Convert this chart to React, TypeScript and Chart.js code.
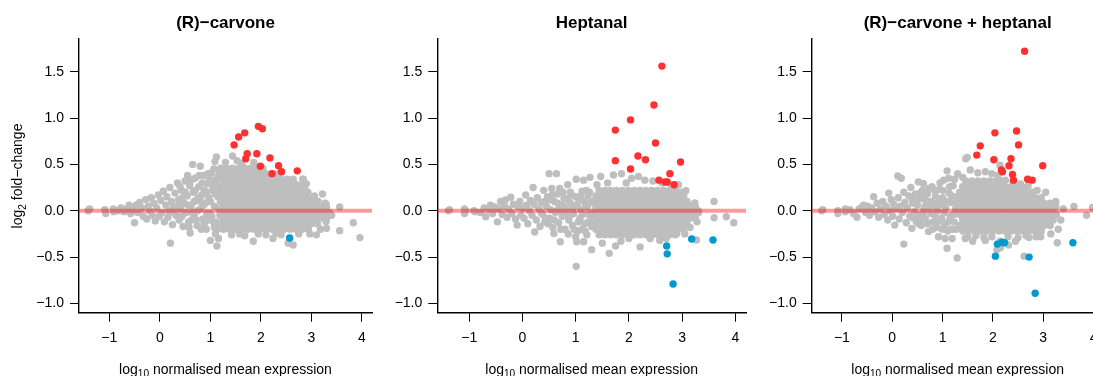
import React, { useEffect, useRef } from "react";
import { Chart, registerables } from "chart.js";
Chart.register(...registerables);

type Pt = [number, number];
type Row = [number, number[]]; // [log2 fold-change, list of log10 mean expression values]

// ---------- axes ----------
const xTickValues = [-1, 0, 1, 2, 3, 4];
const yTickValues = [-1, -0.5, 0, 0.5, 1, 1.5];
const xLimits = [-1.6, 4.2];
const yLimits = [-1.1, 1.86];
const panelTitles = ["(R)\u2212carvone", "Heptanal", "(R)\u2212carvone + heptanal"];

// ---------- panel 1: (R)-carvone ----------
const carvoneUp: Pt[] = [
  [1.95, 0.91], [2.03, 0.885], [1.68, 0.84], [1.56, 0.795], [1.47, 0.71], [1.73, 0.615],
  [1.92, 0.615], [1.70, 0.56], [2.18, 0.57], [1.99, 0.48], [2.35, 0.485], [2.41, 0.42],
  [2.22, 0.40], [2.72, 0.43],
];
const carvoneDown: Pt[] = [[2.57, -0.295]];
const carvoneSparse: Pt[] = [
  [-1.42, 0.0], [-1.39, 0.02], [-1.09, 0.01], [-1.07, -0.03], [-0.92, 0.02], [-0.91, -0.01], [-0.83, 0.0],
  [-0.77, 0.03], [-0.71, -0.01], [-0.67, 0.02], [-0.61, 0.06], [-0.58, -0.03], [-0.54, 0.03], [-0.5, -0.13],
  [-0.47, 0.06], [-0.44, -0.02], [-0.4, 0.09], [-0.36, 0.03], [-0.33, -0.06], [-0.28, 0.12], [-0.26, -0.09],
  [-0.23, 0.05], [-0.2, 0.0], [-0.17, 0.14], [-0.15, -0.05], [-0.12, 0.08], [-0.09, -0.11], [-0.06, 0.03],
  [-0.03, 0.17], [-0.01, -0.06],
  [0.02, 0.11], [0.04, -0.02], [0.07, 0.21], [0.09, -0.12], [0.12, 0.06], [0.14, 0.15], [0.16, -0.07],
  [0.18, 0.0], [0.2, 0.25], [0.21, -0.35], [0.23, 0.1], [0.25, -0.15], [0.27, 0.04], [0.3, 0.19],
  [0.32, -0.05], [0.35, 0.3], [0.37, 0.12], [0.38, -0.1], [0.41, 0.02], [0.43, 0.22], [0.46, -0.17],
  [0.48, 0.08], [0.5, 0.32], [0.52, -0.02], [0.54, 0.16], [0.57, -0.12], [0.59, 0.27], [0.6, -0.24],
  [0.62, 0.05], [0.65, 0.5], [0.66, 0.2], [0.68, -0.06], [0.7, 0.35], [0.72, 0.11], [0.74, -0.16],
  [0.77, 0.26], [0.8, 0.48], [0.8, 0.02], [0.83, 0.17], [0.85, -0.09], [0.87, 0.38], [0.9, 0.08],
  [0.92, -0.2], [0.94, 0.29], [0.97, 0.14], [0.99, -0.03], [1.0, -0.32], [1.02, 0.41], [1.04, 0.22],
  [1.06, -0.12], [1.08, 0.05], [1.09, 0.53], [1.11, 0.31], [1.13, -0.38], [1.14, -0.2], [1.15, 0.15],
  [1.17, 0.44], [1.19, -0.05], [0.45, 0.14], [0.55, 0.38], [0.63, -0.1], [0.75, 0.0], [0.82, -0.2],
  [0.88, 0.22], [0.95, 0.4], [1.05, 0.33], [1.1, -0.25], [0.35, 0.05], [0.28, -0.02], [0.68, 0.1],
  [0.4, 0.26], [0.44, -0.06], [0.5, 0.2], [0.56, 0.06], [0.58, -0.18], [0.62, 0.33], [0.64, -0.02],
  [0.7, 0.22], [0.72, -0.1], [0.76, 0.14], [0.78, 0.38], [0.84, 0.3], [0.86, 0.06], [0.88, -0.14],
  [0.92, 0.2], [0.96, -0.1], [0.98, 0.34], [1.0, 0.1], [1.03, -0.06], [1.05, 0.26], [1.07, 0.45],
  [1.1, 0.18], [1.12, -0.12], [1.15, 0.37], [1.17, 0.02], [1.18, 0.25], [1.16, -0.3], [1.08, -0.18],
  [0.93, -0.03], [0.81, 0.1],
  [1.12, 0.58], [1.44, 0.59], [1.3, 0.52], [1.53, 0.54], [1.62, 0.51], [1.86, 0.52],
  [2.84, 0.34], [2.9, 0.29], [2.93, 0.2],
  [1.42, -0.26], [1.58, -0.25], [1.68, -0.27], [1.85, -0.33], [1.95, -0.25], [2.1, -0.26], [2.24, -0.3],
  [2.4, -0.26], [2.54, -0.35], [2.64, -0.37], [2.75, -0.25], [2.97, -0.25], [3.1, -0.26], [2.3, -0.24], [1.32, -0.19],
  [3.13, 0.1], [3.29, 0.07], [3.22, 0.18], [2.92, 0.2], [2.89, 0.29], [2.83, 0.34], [3.56, 0.04], [3.83, -0.13],
  [3.96, -0.29], [3.56, -0.215], [3.3, -0.19], [3.29, -0.12], [3.4, -0.05], [3.18, -0.2], [3.27, 0.08],
];
const carvoneCore: Row[] = [
  [0.46, [1.2, 1.32, 1.44, 1.56, 1.68, 1.8, 1.92, 2.04]],
  [0.4, [1.26, 1.38, 1.5, 1.62, 1.74, 1.86, 1.98, 2.1, 2.22, 2.34]],
  [0.34, [1.2, 1.32, 1.44, 1.56, 1.68, 1.8, 1.92, 2.04, 2.16, 2.28, 2.4, 2.52, 2.64]],
  [0.28, [1.26, 1.38, 1.5, 1.62, 1.74, 1.86, 1.98, 2.1, 2.22, 2.34, 2.46, 2.58, 2.7, 2.82]],
  [0.22, [1.2, 1.32, 1.44, 1.56, 1.68, 1.8, 1.92, 2.04, 2.16, 2.28, 2.4, 2.52, 2.64, 2.76, 2.88]],
  [0.16, [1.26, 1.38, 1.5, 1.62, 1.74, 1.86, 1.98, 2.1, 2.22, 2.34, 2.46, 2.58, 2.7, 2.82, 2.94, 3.06]],
  [0.1, [1.2, 1.32, 1.44, 1.56, 1.68, 1.8, 1.92, 2.04, 2.16, 2.28, 2.4, 2.52, 2.64, 2.76, 2.88, 3.0, 3.12]],
  [0.04, [1.26, 1.38, 1.5, 1.62, 1.74, 1.86, 1.98, 2.1, 2.22, 2.34, 2.46, 2.58, 2.7, 2.82, 2.94, 3.06, 3.18, 3.3]],
  [-0.02, [1.2, 1.32, 1.44, 1.56, 1.68, 1.8, 1.92, 2.04, 2.16, 2.28, 2.4, 2.52, 2.64, 2.76, 2.88, 3.0, 3.12, 3.24, 3.36]],
  [-0.08, [1.26, 1.38, 1.5, 1.62, 1.74, 1.86, 1.98, 2.1, 2.22, 2.34, 2.46, 2.58, 2.7, 2.82, 2.94, 3.06, 3.18, 3.3]],
  [-0.14, [1.2, 1.32, 1.44, 1.56, 1.68, 1.8, 1.92, 2.04, 2.16, 2.28, 2.4, 2.52, 2.64, 2.76, 2.88, 3.0, 3.12]],
  [-0.2, [1.26, 1.38, 1.5, 1.62, 1.74, 1.86, 1.98, 2.1, 2.22, 2.34, 2.46, 2.58, 2.7, 2.82, 2.94]],
];

// ---------- panel 2: Heptanal ----------
const heptanalUp: Pt[] = [
  [2.62, 1.56], [2.47, 1.14], [2.03, 0.98], [1.745, 0.87], [2.5, 0.73], [2.17, 0.59], [2.31, 0.55],
  [1.745, 0.54], [2.97, 0.525], [2.03, 0.45], [2.77, 0.4], [2.565, 0.33], [2.68, 0.31], [2.72, 0.31], [2.85, 0.28],
];
const heptanalDown: Pt[] = [[3.18, -0.305], [3.58, -0.315], [2.71, -0.38], [2.72, -0.465], [2.83, -0.79]];
const heptanalSparse: Pt[] = [
  [-1.39, 0.0], [-1.37, 0.01], [-1.09, 0.02], [-1.09, -0.03], [-1.07, 0.0], [-0.91, 0.0], [-0.89, -0.01],
  [-0.79, -0.02], [-0.72, 0.03], [-0.69, -0.065], [-0.62, 0.01], [-0.6, 0.06], [-0.56, -0.03], [-0.52, 0.04],
  [-0.47, -0.12], [-0.45, 0.02], [-0.41, 0.1], [-0.38, -0.04], [-0.34, 0.05], [-0.32, 0.115], [-0.29, -0.07],
  [-0.26, 0.02], [-0.22, 0.145], [-0.2, -0.03], [-0.17, 0.07], [-0.13, -0.09], [-0.1, -0.155], [-0.08, 0.04],
  [-0.05, 0.1], [-0.03, -0.05],
  [0.0, 0.03], [0.03, -0.08], [0.06, 0.17], [0.08, 0.06], [0.1, -0.14], [0.13, 0.0], [0.15, 0.11],
  [0.18, -0.05], [0.2, 0.25], [0.22, 0.07], [0.23, -0.23], [0.26, -0.1], [0.28, 0.14], [0.31, 0.02],
  [0.33, -0.17], [0.36, 0.09], [0.38, -0.04], [0.4, 0.22], [0.42, -0.12], [0.45, 0.05], [0.47, 0.15],
  [0.5, 0.4], [0.51, -0.08], [0.53, 0.01], [0.55, 0.24], [0.57, -0.18], [0.59, -0.245], [0.6, 0.1],
  [0.62, -0.02], [0.64, 0.4], [0.66, 0.18], [0.68, -0.13], [0.7, 0.24], [0.71, -0.335], [0.73, 0.06],
  [0.75, -0.06], [0.78, 0.13], [0.8, -0.2], [0.82, 0.02], [0.85, 0.28], [0.87, -0.1], [0.89, 0.09],
  [0.92, 0.17], [0.94, -0.16], [0.96, -0.03], [0.99, 0.06], [1.01, 0.34], [1.01, -0.6], [1.02, -0.335],
  [1.04, -0.22], [1.06, 0.12], [1.08, -0.08], [1.1, 0.01], [1.12, 0.21], [1.15, 0.33], [1.15, -0.335],
  [1.17, -0.14], [1.19, 0.06], [1.21, -0.26], [1.23, 0.16], [1.25, -0.04], [1.27, 0.36], [1.28, 0.09],
  [1.3, -0.42], [1.3, -0.17], [0.35, -0.02], [0.44, -0.08], [0.52, 0.12], [0.65, 0.0], [0.77, 0.05],
  [0.9, -0.05], [1.0, 0.15], [1.12, -0.2], [1.2, 0.22],
  [0.42, 0.1], [0.48, -0.14], [0.56, 0.17], [0.6, -0.1], [0.66, 0.08], [0.72, -0.2], [0.76, 0.2],
  [0.8, -0.03], [0.84, 0.13], [0.86, -0.25], [0.9, 0.2], [0.94, 0.02], [0.97, -0.2], [1.03, 0.06],
  [1.05, -0.12], [1.09, 0.16], [1.13, -0.04], [1.16, 0.1], [1.18, -0.22], [1.22, 0.04], [1.24, -0.12],
  [1.26, 0.2], [1.29, -0.06], [1.0, -0.28], [0.7, 0.0],
  [1.47, 0.37], [1.71, 0.385], [1.86, 0.4], [2.05, 0.35], [2.18, 0.37], [1.6, 0.3], [2.3, 0.33], [2.45, 0.32],
  [2.62, 0.3], [2.8, 0.27], [3.07, 0.215], [1.4, 0.28], [1.95, 0.3], [2.93, 0.28], [2.98, 0.2],
  [1.63, -0.46], [2.21, -0.39], [2.58, -0.32], [2.9, -0.245], [3.27, -0.315], [1.85, -0.33], [2.0, -0.3],
  [2.4, -0.3], [1.5, -0.35], [1.75, -0.38], [2.7, -0.3], [3.05, -0.25],
  [3.24, 0.085], [3.6, 0.1], [3.6, -0.075], [3.83, -0.065], [3.97, -0.13], [3.28, -0.12], [3.3, 0.0],
  [3.15, -0.18], [3.12, 0.06],
];
const heptanalCore: Row[] = [
  [0.22, [1.44, 1.55, 1.66, 1.77, 1.88, 1.99, 2.1, 2.21, 2.32, 2.43, 2.54, 2.65, 2.76, 2.87]],
  [0.16, [1.38, 1.49, 1.6, 1.71, 1.82, 1.93, 2.04, 2.15, 2.26, 2.37, 2.48, 2.59, 2.7, 2.81, 2.92, 3.03]],
  [0.1, [1.33, 1.44, 1.55, 1.66, 1.77, 1.88, 1.99, 2.1, 2.21, 2.32, 2.43, 2.54, 2.65, 2.76, 2.87, 2.98, 3.09]],
  [0.04, [1.38, 1.49, 1.6, 1.71, 1.82, 1.93, 2.04, 2.15, 2.26, 2.37, 2.48, 2.59, 2.7, 2.81, 2.92, 3.03, 3.14, 3.25]],
  [-0.02, [1.33, 1.44, 1.55, 1.66, 1.77, 1.88, 1.99, 2.1, 2.21, 2.32, 2.43, 2.54, 2.65, 2.76, 2.87, 2.98, 3.09, 3.2, 3.31]],
  [-0.08, [1.38, 1.49, 1.6, 1.71, 1.82, 1.93, 2.04, 2.15, 2.26, 2.37, 2.48, 2.59, 2.7, 2.81, 2.92, 3.03, 3.14, 3.25]],
  [-0.14, [1.33, 1.44, 1.55, 1.66, 1.77, 1.88, 1.99, 2.1, 2.21, 2.32, 2.43, 2.54, 2.65, 2.76, 2.87, 2.98, 3.09]],
  [-0.2, [1.38, 1.49, 1.6, 1.71, 1.82, 1.93, 2.04, 2.15, 2.26, 2.37, 2.48, 2.59, 2.7, 2.81, 2.92, 3.03]],
  [-0.26, [1.44, 1.55, 1.66, 1.77, 1.88, 1.99, 2.1, 2.21, 2.32, 2.43, 2.54, 2.65, 2.76, 2.87]],
];

// ---------- panel 3: (R)-carvone + heptanal ----------
const comboUp: Pt[] = [
  [2.63, 1.72], [2.47, 0.86], [2.04, 0.84], [1.75, 0.7], [2.51, 0.71], [1.68, 0.6], [2.02, 0.55],
  [2.36, 0.56], [2.99, 0.485], [2.32, 0.485], [2.17, 0.44], [2.19, 0.42], [2.39, 0.39], [2.41, 0.33],
  [2.69, 0.34], [2.78, 0.33],
];
const comboDown: Pt[] = [
  [3.59, -0.345], [2.09, -0.36], [2.18, -0.34], [2.23, -0.345], [2.05, -0.49], [2.72, -0.5], [2.84, -0.89],
];
const comboSparse: Pt[] = [
  [-1.4, 0.0], [-1.38, 0.01], [-1.08, 0.0], [-1.08, -0.03], [-0.93, 0.02], [-0.93, -0.01], [-0.84, 0.01],
  [-0.77, -0.03], [-0.7, -0.07], [-0.66, 0.02], [-0.6, 0.04], [-0.57, 0.06], [-0.53, -0.02], [-0.49, 0.05],
  [-0.45, -0.05], [-0.41, 0.03], [-0.37, 0.15], [-0.34, -0.01], [-0.3, 0.08], [-0.27, -0.07], [-0.23, 0.02],
  [-0.19, 0.1], [-0.16, -0.04], [-0.12, 0.05], [-0.09, -0.1], [-0.07, 0.19], [-0.04, 0.0], [-0.02, 0.12],
  [0.01, -0.06], [0.03, 0.07], [0.05, -0.155], [0.08, 0.02], [0.11, 0.375], [0.12, 0.14], [0.14, -0.09],
  [0.16, 0.05], [0.18, 0.35], [0.2, -0.02], [0.23, -0.36], [0.23, 0.2], [0.25, 0.09], [0.28, -0.13],
  [0.3, 0.03], [0.33, 0.16], [0.35, -0.06], [0.37, 0.25], [0.39, -0.19], [0.41, 0.08], [0.44, -0.01],
  [0.46, 0.18], [0.48, -0.12], [0.5, 0.06], [0.52, 0.31], [0.54, -0.05], [0.56, 0.13], [0.58, -0.16],
  [0.6, 0.22], [0.62, 0.295], [0.63, 0.01], [0.66, -0.09], [0.68, 0.1], [0.7, 0.18], [0.72, -0.225],
  [0.74, 0.04], [0.76, -0.03], [0.79, 0.26], [0.81, -0.12], [0.83, 0.08], [0.86, 0.16], [0.88, -0.18],
  [0.9, 0.0], [0.92, -0.28], [0.93, 0.23], [0.96, 0.07], [0.98, -0.08], [1.0, 0.14], [1.02, 0.33],
  [1.04, -0.15], [1.06, 0.03], [1.09, 0.43], [1.09, -0.405], [1.1, -0.22], [1.12, 0.35], [1.13, 0.19],
  [1.15, -0.06], [1.17, 0.09], [1.19, -0.3], [1.21, 0.27], [1.23, -0.12], [1.26, 0.02], [1.29, -0.51],
  [1.3, 0.4], [1.28, 0.15], [0.4, 0.12], [0.55, -0.1], [0.65, 0.05], [0.85, -0.05], [0.95, 0.3],
  [1.05, -0.3], [1.2, -0.2],
  [0.42, -0.08], [0.47, 0.1], [0.52, -0.14], [0.57, 0.2], [0.61, -0.04], [0.64, 0.14], [0.7, -0.14],
  [0.73, 0.24], [0.77, 0.1], [0.8, -0.2], [0.84, 0.22], [0.87, 0.04], [0.91, -0.12], [0.94, 0.12],
  [0.99, -0.2], [1.01, 0.22], [1.03, -0.02], [1.07, 0.1], [1.11, -0.12], [1.14, 0.26], [1.16, -0.2],
  [1.18, 0.16], [1.22, -0.04], [1.24, 0.34], [1.27, -0.2], [1.29, 0.08],
  [1.49, 0.575], [1.46, 0.56], [2.14, 0.49], [1.55, 0.44], [1.7, 0.41], [1.85, 0.42], [1.98, 0.4], [2.1, 0.38],
  [1.4, 0.36], [2.25, 0.33], [2.4, 0.3], [2.55, 0.29], [2.7, 0.27], [2.88, 0.22], [3.05, 0.2], [2.6, 0.25],
  [1.5, -0.28], [1.66, -0.27], [1.82, -0.29], [1.98, -0.28], [2.14, -0.33], [2.3, -0.28], [2.5, -0.29],
  [2.66, -0.27], [2.86, -0.28],
  [2.08, -0.42], [2.31, -0.37], [2.72, -0.29], [2.62, -0.49], [3.28, -0.345], [2.15, -0.4], [1.6, -0.33],
  [1.85, -0.32], [2.45, -0.33], [2.95, -0.28], [1.45, -0.3],
  [3.25, 0.1], [3.25, 0.045], [3.61, 0.045], [3.86, -0.05], [3.98, 0.035], [3.35, -0.1], [3.3, -0.2],
  [3.15, -0.25], [3.4, 0.02],
];
const comboCore: Row[] = [
  [0.32, [1.46, 1.58, 1.7, 1.82, 1.94, 2.06, 2.18]],
  [0.26, [1.4, 1.52, 1.64, 1.76, 1.88, 2.0, 2.12, 2.24, 2.36, 2.48]],
  [0.2, [1.34, 1.46, 1.58, 1.7, 1.82, 1.94, 2.06, 2.18, 2.3, 2.42, 2.54, 2.66, 2.78]],
  [0.14, [1.4, 1.52, 1.64, 1.76, 1.88, 2.0, 2.12, 2.24, 2.36, 2.48, 2.6, 2.72, 2.84, 2.96]],
  [0.08, [1.34, 1.46, 1.58, 1.7, 1.82, 1.94, 2.06, 2.18, 2.3, 2.42, 2.54, 2.66, 2.78, 2.9, 3.02, 3.14]],
  [0.02, [1.4, 1.52, 1.64, 1.76, 1.88, 2.0, 2.12, 2.24, 2.36, 2.48, 2.6, 2.72, 2.84, 2.96, 3.08, 3.2]],
  [-0.04, [1.34, 1.46, 1.58, 1.7, 1.82, 1.94, 2.06, 2.18, 2.3, 2.42, 2.54, 2.66, 2.78, 2.9, 3.02, 3.14, 3.26]],
  [-0.1, [1.4, 1.52, 1.64, 1.76, 1.88, 2.0, 2.12, 2.24, 2.36, 2.48, 2.6, 2.72, 2.84, 2.96, 3.08, 3.2]],
  [-0.16, [1.34, 1.46, 1.58, 1.7, 1.82, 1.94, 2.06, 2.18, 2.3, 2.42, 2.54, 2.66, 2.78, 2.9, 3.02, 3.14]],
  [-0.22, [1.4, 1.52, 1.64, 1.76, 1.88, 2.0, 2.12, 2.24, 2.36, 2.48, 2.6, 2.72, 2.84, 2.96]],
];

const upSets = [carvoneUp, heptanalUp, comboUp];
const downSets = [carvoneDown, heptanalDown, comboDown];
const sparseSets = [carvoneSparse, heptanalSparse, comboSparse];
const coreSets = [carvoneCore, heptanalCore, comboCore];

// ---------- layout (pixels) ----------
const panelBoxes = [
  { left: 0, width: 380, plotLeft: 79, plotRight: 372 },
  { left: 380, width: 380, plotLeft: 437.3, plotRight: 746 },
  { left: 760, width: 360, plotLeft: 811.7, plotRight: 1103.6 },
];
const FONT = "'Liberation Sans', Arial, Helvetica, sans-serif";
const H = 376;
const PLOT_TOP = 38.3;
const PLOT_BOTTOM = 312.7;
const DOT = 3.7;

const minus = (s: string) => s.replace("-", "\u2212");

type Part = { t: string; sub?: boolean };
function drawParts(ctx: CanvasRenderingContext2D, parts: Part[], cx: number, baseline: number, size: number) {
  const subSize = size * 0.72;
  const widths = parts.map((p) => {
    ctx.font = `${p.sub ? subSize : size}px ${FONT}`;
    return ctx.measureText(p.t).width;
  });
  const total = widths.reduce((a, b) => a + b, 0);
  let x = cx - total / 2;
  ctx.textAlign = "left";
  ctx.textBaseline = "alphabetic";
  parts.forEach((p, i) => {
    ctx.font = `${p.sub ? subSize : size}px ${FONT}`;
    ctx.fillText(p.t, x, baseline + (p.sub ? 3.5 : 0));
    x += widths[i];
  });
}

function Panel({ index }: { index: number }) {
  const ref = useRef<HTMLCanvasElement>(null);
  useEffect(() => {
    const box = panelBoxes[index];
    const toXY = (arr: Pt[]) => arr.map(([x, y]) => ({ x, y }));
    const greyPoints = [
      ...toXY(sparseSets[index]),
      ...coreSets[index].flatMap(([y, xs]) => xs.map((x) => ({ x, y }))),
    ];
    const textPlugin = {
      id: "panelText",
      afterDraw(chart: any) {
        const ctx: CanvasRenderingContext2D = chart.ctx;
        const area = chart.chartArea;
        const cx = (area.left + area.right) / 2;
        ctx.save();
        ctx.fillStyle = "#000";
        ctx.font = `bold 17px ${FONT}`;
        ctx.textAlign = "center";
        ctx.textBaseline = "alphabetic";
        ctx.fillText(panelTitles[index], cx, 27.5);
        drawParts(ctx, [{ t: "log" }, { t: "10", sub: true }, { t: " normalised mean expression" }], cx, 373.5, 14);
        if (index === 0) {
          ctx.translate(22, 176);
          ctx.rotate(-Math.PI / 2);
          drawParts(ctx, [{ t: "log" }, { t: "2", sub: true }, { t: " fold\u2212change" }], 0, 0, 14);
        }
        ctx.restore();
      },
    };
    const pointStyle = (color: string) => ({
      pointBackgroundColor: color,
      pointBorderWidth: 0,
      pointRadius: DOT,
      pointHoverRadius: DOT,
      showLine: false,
    });
    const chart = new Chart(ref.current!, {
      type: "scatter",
      data: {
        datasets: [
          {
            type: "line",
            data: [{ x: xLimits[0], y: 0 }, { x: xLimits[1], y: 0 }],
            borderColor: "rgba(255,0,0,0.4)",
            borderWidth: 4,
            pointRadius: 0,
            showLine: true,
          } as any,
          { data: toXY(upSets[index]), ...pointStyle("#FF3030") },
          { data: toXY(downSets[index]), ...pointStyle("#009ACD") },
          { data: greyPoints, ...pointStyle("#BEBEBE") },
        ],
      },
      options: {
        animation: false,
        responsive: false,
        events: [],
        layout: { padding: { left: 0, right: box.left + box.width - box.plotRight, top: PLOT_TOP, bottom: 0 } },
        plugins: { legend: { display: false }, tooltip: { enabled: false }, title: { display: false } },
        scales: {
          x: {
            type: "linear",
            min: xLimits[0],
            max: xLimits[1],
            afterBuildTicks: (s: any) => {
              s.ticks = xTickValues.map((v) => ({ value: v }));
            },
            afterFit: (s: any) => {
              s.height = H - PLOT_BOTTOM;
            },
            grid: { drawOnChartArea: false, drawTicks: true, tickLength: 9, tickColor: "#000", tickWidth: 1 },
            border: { display: true, color: "#000", width: 1.4 },
            ticks: {
              color: "#000",
              font: { family: FONT, size: 14 },
              padding: 8,
              autoSkip: false,
              maxRotation: 0,
              callback: (v: any) => minus(String(v)),
            },
          },
          y: {
            type: "linear",
            min: yLimits[0],
            max: yLimits[1],
            afterBuildTicks: (s: any) => {
              s.ticks = yTickValues.map((v) => ({ value: v }));
            },
            afterFit: (s: any) => {
              s.width = box.plotLeft - box.left;
            },
            grid: { drawOnChartArea: false, drawTicks: true, tickLength: 9, tickColor: "#000", tickWidth: 1 },
            border: { display: true, color: "#000", width: 1.4 },
            ticks: {
              color: "#000",
              font: { family: FONT, size: 14 },
              padding: 6,
              autoSkip: false,
              callback: (v: any) => minus(Number(v).toFixed(1)),
            },
          },
        },
      } as any,
      plugins: [textPlugin],
    });
    return () => chart.destroy();
  }, [index]);
  const box = panelBoxes[index];
  return (
    <canvas
      ref={ref}
      width={box.width}
      height={H}
      style={{ position: "absolute", left: box.left, top: 0, width: box.width, height: H }}
    />
  );
}

export default function App() {
  return (
    <div
      style={{
        position: "absolute",
        left: 0,
        top: 0,
        width: 1093,
        height: 376,
        overflow: "hidden",
        background: "#fff",
      }}
    >
      {panelBoxes.map((_, i) => (
        <Panel key={i} index={i} />
      ))}
    </div>
  );
}
